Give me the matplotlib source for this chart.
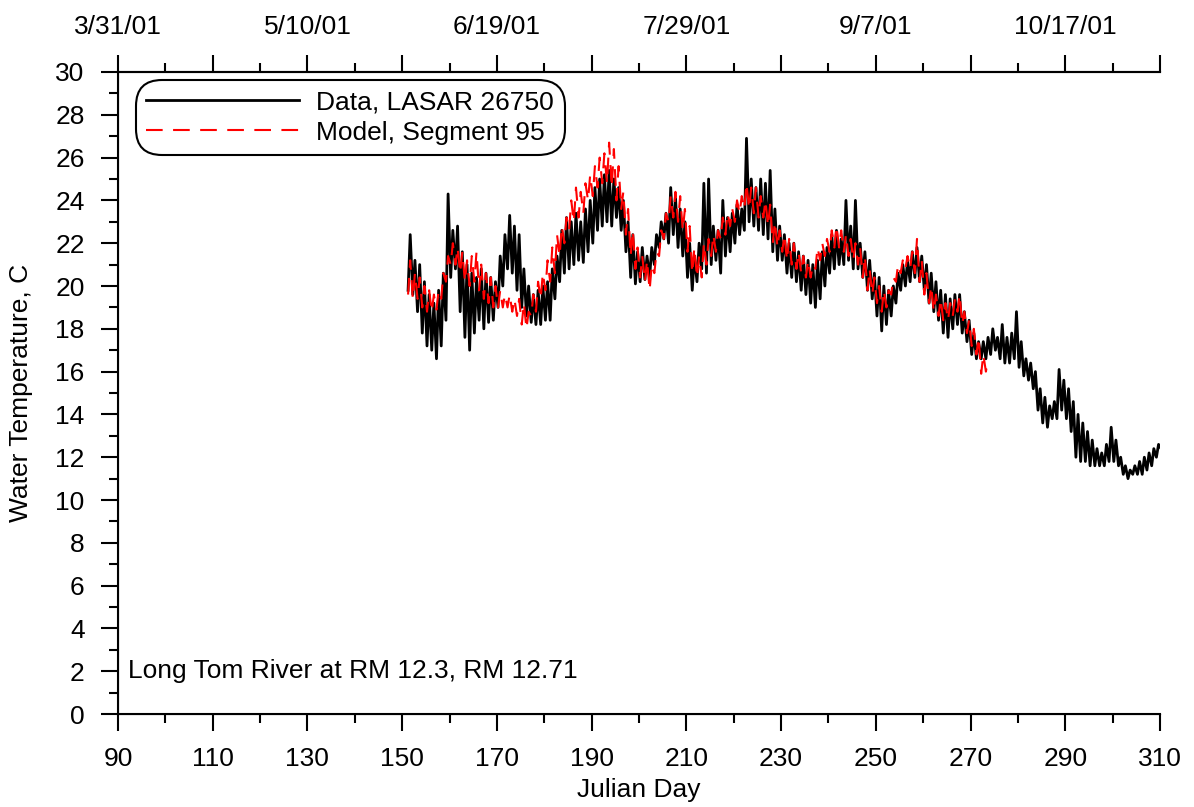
import numpy as np
import matplotlib
matplotlib.use("Agg")
import matplotlib.pyplot as plt
from matplotlib.ticker import MultipleLocator, FixedLocator

plt.rcParams['font.family'] = ['Liberation Sans', 'DejaVu Sans']

# Data, LASAR 26750 -- daily min / max (Julian day 151..310)
data_days = list(range(151, 311))
data_min = [19.8, 19.6, 18.8, 17.8, 17.2, 17.0, 16.6, 17.2, 18.4, 20.4,
            20.8, 18.8, 17.6, 17.0, 17.8, 18.4, 18.0, 18.3, 18.4, 19.0,
            20.0, 20.8, 20.6, 19.8, 19.0, 18.6, 18.3, 18.2, 18.2, 18.4,
            18.4, 19.4, 20.2, 20.6, 20.8, 21.0, 21.2, 21.1, 21.6, 22.0,
            22.6, 22.8, 23.0, 22.8, 23.2, 22.6, 21.6, 20.4, 20.1, 20.2,
            20.3, 20.4, 21.0, 21.8, 22.2, 22.0, 22.4, 21.8, 21.4, 20.4,
            19.8, 20.2, 20.8, 20.6, 21.0, 21.2, 20.6, 21.4, 21.6, 22.0,
            22.4, 22.6, 23.0, 22.8, 22.6, 22.4, 22.2, 21.6, 21.2, 21.2,
            20.6, 20.4, 20.2, 19.8, 19.6, 19.2, 19.0, 19.4, 20.0, 20.6,
            20.8, 21.0, 21.0, 21.2, 20.8, 20.8, 20.4, 19.8, 19.4, 18.6,
            17.9, 18.2, 18.6, 19.2, 19.8, 20.0, 20.2, 20.4, 20.2, 19.8,
            19.2, 18.8, 18.4, 17.8, 17.6, 18.0, 18.2, 17.8, 17.4, 16.8,
            16.6, 16.6, 16.6, 16.8, 17.0, 16.6, 16.4, 16.4, 16.6, 16.2,
            15.8, 15.6, 15.2, 14.2, 13.6, 13.4, 13.8, 13.8, 14.2, 13.8,
            13.2, 12.0, 11.8, 11.8, 11.6, 11.6, 11.6, 11.6, 11.8, 11.8,
            11.6, 11.2, 11.0, 11.2, 11.2, 11.2, 11.4, 11.6, 12.0, 12.4]
data_max = [22.4, 21.2, 21.0, 20.2, 19.6, 19.2, 19.8, 20.6, 24.3, 22.6,
            22.8, 21.6, 21.0, 20.6, 20.4, 20.8, 20.6, 20.4, 20.2, 21.4,
            22.4, 23.3, 22.8, 22.4, 20.8, 20.0, 19.6, 19.8, 20.0, 20.2,
            20.8, 21.4, 22.6, 23.2, 23.0, 23.4, 23.0, 23.6, 24.0, 24.6,
            25.0, 25.2, 25.4, 25.0, 24.6, 24.0, 23.0, 22.4, 21.6, 21.8,
            21.4, 21.8, 22.4, 23.0, 23.4, 24.6, 24.2, 23.6, 23.0, 22.0,
            21.4, 22.0, 24.8, 25.0, 22.8, 22.6, 24.0, 23.2, 23.4, 23.8,
            23.6, 26.9, 25.0, 24.6, 25.0, 24.8, 25.4, 23.6, 22.8, 22.4,
            22.0, 22.0, 21.6, 21.4, 21.2, 21.0, 21.2, 21.6, 21.8, 22.4,
            22.6, 22.2, 24.0, 22.8, 24.0, 22.0, 21.6, 21.2, 20.6, 20.4,
            20.0, 19.8, 20.0, 20.6, 21.0, 21.2, 21.6, 21.8, 21.4, 21.0,
            20.6, 20.2, 19.8, 19.6, 19.4, 19.6, 19.6, 18.8, 18.4, 17.8,
            17.4, 17.4, 17.6, 18.0, 17.6, 18.2, 17.6, 17.8, 18.8, 17.4,
            16.6, 16.4, 16.0, 15.2, 14.8, 14.4, 14.6, 16.1, 15.6, 15.2,
            14.6, 14.0, 13.6, 13.2, 12.8, 12.4, 12.2, 12.6, 13.4, 12.8,
            12.0, 11.6, 11.4, 11.6, 11.8, 12.0, 12.2, 12.4, 12.6, 12.9]

# Model, Segment 95 -- daily min / max (Julian day 151..273)
model_days = list(range(151, 274))
model_min = [19.6, 19.4, 19.4, 19.0, 18.8, 18.8, 18.9, 19.4, 20.2, 21.0,
             21.0, 20.6, 20.2, 20.0, 20.2, 19.8, 19.4, 19.2, 19.0, 19.0,
             19.0, 19.0, 18.8, 18.6, 18.2, 18.0, 18.6, 18.8, 19.4, 19.8,
             20.2, 20.6, 21.4, 22.0, 22.6, 23.0, 23.2, 23.4, 24.0, 24.2,
             24.6, 24.8, 24.8, 24.6, 24.0, 23.6, 22.4, 21.4, 20.8, 20.4,
             20.2, 19.8, 20.6, 21.4, 22.2, 23.0, 23.2, 23.0, 22.6, 21.6,
             20.6, 20.4, 20.4, 21.0, 21.4, 21.6, 22.2, 22.4, 22.8, 23.0,
             23.4, 23.6, 23.6, 23.4, 23.2, 23.2, 22.8, 22.0, 21.8, 21.6,
             21.2, 21.0, 20.8, 20.6, 20.4, 20.4, 20.8, 21.2, 21.4, 21.6,
             21.8, 21.8, 21.6, 21.4, 21.2, 21.0, 20.4, 19.8, 19.6, 19.2,
             18.8, 19.0, 19.6, 20.2, 20.6, 20.8, 20.8, 20.6, 20.2, 19.6,
             19.2, 18.8, 18.6, 18.4, 18.4, 18.6, 18.8, 18.2, 17.8, 17.2,
             16.8, 15.9, 16.0]
model_max = [21.2, 20.6, 20.4, 20.0, 19.8, 19.6, 19.8, 20.6, 21.4, 22.0,
             21.8, 21.6, 21.2, 21.4, 21.6, 21.0, 20.6, 20.4, 20.0, 19.8,
             19.6, 19.6, 19.4, 19.4, 19.2, 18.8, 19.6, 20.2, 20.6, 21.2,
             21.8, 22.4, 22.8, 23.2, 24.0, 24.6, 24.4, 24.8, 25.2, 25.6,
             26.0, 26.2, 26.7, 26.4, 25.6, 24.4, 23.6, 22.6, 21.8, 21.4,
             21.2, 21.0, 21.6, 22.6, 23.4, 24.2, 24.4, 24.2, 23.6, 22.8,
             21.8, 21.4, 22.0, 22.2, 22.4, 22.6, 23.2, 23.4, 23.6, 24.0,
             24.2, 24.8, 24.6, 24.6, 24.2, 24.0, 23.8, 23.0, 22.6, 22.4,
             22.2, 22.0, 21.6, 21.4, 21.2, 21.0, 21.8, 22.0, 22.2, 22.6,
             22.8, 22.6, 22.4, 22.2, 22.0, 21.8, 21.4, 20.8, 20.4, 20.0,
             19.8, 19.8, 20.4, 21.0, 21.2, 21.4, 21.6, 22.2, 21.2, 20.6,
             20.0, 19.6, 19.4, 19.2, 19.2, 19.4, 19.6, 18.8, 18.4, 18.0,
             17.6, 16.8, 16.6]

x_ticks = list(range(90, 311, 20))
top_ticks = [90, 130, 170, 210, 250, 290]
top_labels = ['3/31/01', '5/10/01', '6/19/01', '7/29/01', '9/7/01', '10/17/01']

FS = 19


def daily_series(days, lo, hi):
    # night minimum early in the day, afternoon maximum later
    x, y = [], []
    for d, a, b in zip(days, lo, hi):
        x += [d + 0.25, d + 0.7]
        y += [a, b]
    return np.array(x), np.array(y)


dx, dy = daily_series(data_days, data_min, data_max)
mx, my = daily_series(model_days, model_min, model_max)

fig = plt.figure(figsize=(11.94, 8.07), dpi=100)
ax = fig.add_axes([0.0988, 0.1152, 0.8727, 0.7956])

ax.plot(dx, dy, color='black', lw=2.0, label='Data, LASAR 26750')
ax.plot(mx, my, color='red', lw=1.5, dashes=(8, 5), label='Model, Segment 95')

ax.set_xlim(90, 310)
ax.set_ylim(0, 30)
ax.xaxis.set_major_locator(FixedLocator(x_ticks))
ax.xaxis.set_minor_locator(MultipleLocator(10))
ax.yaxis.set_major_locator(MultipleLocator(2))
ax.yaxis.set_minor_locator(MultipleLocator(1))
ax.tick_params(which='major', direction='out', length=12, width=1.5, labelsize=FS)
ax.tick_params(which='minor', direction='out', length=6.5, width=1.5)
ax.tick_params(axis='x', which='major', pad=12)
ax.tick_params(axis='y', which='major', pad=12)
ax.spines['right'].set_visible(False)
for s in ['left', 'bottom', 'top']:
    ax.spines[s].set_linewidth(1.5)

ax.set_xlabel('Julian Day', fontsize=FS)
ax.set_ylabel('Water Temperature, C', fontsize=FS)
ax.xaxis.set_label_coords(0.5, -0.1)
ax.yaxis.set_label_coords(-0.082, 0.5)

# top axis with calendar dates
top = ax.twiny()
top.set_xlim(ax.get_xlim())
top.xaxis.set_major_locator(FixedLocator(x_ticks))
top.set_xticklabels([top_labels[top_ticks.index(t)] if t in top_ticks else ''
                     for t in x_ticks])
top.xaxis.set_minor_locator(MultipleLocator(10))
top.tick_params(which='major', direction='out', length=12, width=1.5, labelsize=FS, pad=12)
top.tick_params(which='minor', direction='out', length=6.5, width=1.5)
top.spines['right'].set_visible(False)
top.spines['top'].set_linewidth(1.5)

ax.text(92.1, 2, 'Long Tom River at RM 12.3, RM 12.71', fontsize=FS, va='center', ha='left')

leg = ax.legend(loc='upper left', fontsize=FS, handlelength=5.8, frameon=True,
                fancybox=True, edgecolor='black', framealpha=1,
                borderpad=0.2, labelspacing=0.25, handletextpad=0.65,
                borderaxespad=0, bbox_to_anchor=(0.022, 0.98))
leg.get_frame().set_linewidth(1.5)
leg.get_frame().set_boxstyle('round', pad=0.2, rounding_size=1.0)

fig.savefig('out.png', dpi=100)
